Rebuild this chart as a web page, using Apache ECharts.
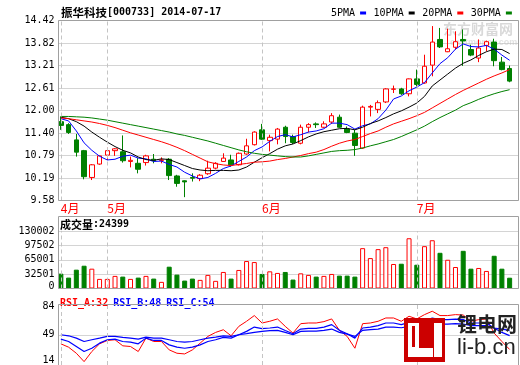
<!DOCTYPE html>
<html><head><meta charset="utf-8">
<script src="https://cdn.jsdelivr.net/npm/echarts@6/dist/echarts.min.js"></script>
<style>html,body{margin:0;padding:0;background:#fff}#c{width:520px;height:365px}</style>
</head><body><div id="c"></div>
<script>
const dates = ['2014-04-23','2014-04-24','2014-04-25','2014-04-28','2014-04-29','2014-04-30',
'2014-05-05','2014-05-06','2014-05-07','2014-05-08','2014-05-09','2014-05-12','2014-05-13','2014-05-14','2014-05-15','2014-05-16','2014-05-19','2014-05-20','2014-05-21','2014-05-22','2014-05-23','2014-05-26','2014-05-27','2014-05-28','2014-05-29','2014-05-30',
'2014-06-03','2014-06-04','2014-06-05','2014-06-06','2014-06-09','2014-06-10','2014-06-11','2014-06-12','2014-06-13','2014-06-16','2014-06-17','2014-06-18','2014-06-19','2014-06-20','2014-06-23','2014-06-24','2014-06-25','2014-06-26','2014-06-27','2014-06-30',
'2014-07-01','2014-07-02','2014-07-03','2014-07-04','2014-07-07','2014-07-08','2014-07-09','2014-07-10','2014-07-11','2014-07-14','2014-07-15','2014-07-16','2014-07-17'];
const openP = [11.70,11.62,11.21,10.92,10.20,10.56,10.80,10.92,10.89,10.63,10.58,10.60,10.69,10.66,10.69,10.24,10.11,10.20,10.17,10.30,10.45,10.63,10.67,10.54,10.83,11.08,11.48,11.19,11.23,11.55,11.30,11.12,11.55,11.64,11.55,11.69,11.82,11.50,11.39,10.99,12.09,12.03,12.23,12.57,12.58,12.45,12.85,12.74,13.22,13.91,13.58,13.70,13.91,13.64,13.41,13.75,13.84,13.30,13.13];
const closeP = [11.60,11.41,10.88,10.22,10.54,10.78,10.92,10.97,10.65,10.66,10.42,10.78,10.65,10.67,10.25,10.04,10.08,10.18,10.26,10.45,10.58,10.72,10.54,10.85,11.05,11.42,11.23,11.28,11.50,11.30,11.14,11.55,11.62,11.62,11.64,11.86,11.55,11.41,11.06,12.09,12.11,12.21,12.58,12.58,12.45,12.85,12.70,13.19,13.84,13.71,13.66,13.85,13.87,13.49,13.68,13.85,13.34,13.10,12.79];
const highP = [11.84,11.66,11.37,10.94,10.56,10.79,11.00,10.99,11.33,10.76,10.72,10.81,10.83,10.74,10.72,10.27,10.12,10.31,10.29,10.65,10.61,10.85,10.81,10.87,11.24,11.44,11.64,11.35,11.53,11.59,11.35,11.62,11.66,11.68,11.71,11.93,11.89,11.57,11.48,12.13,12.15,12.27,12.60,12.67,12.61,12.86,13.10,13.50,14.27,14.22,14.20,14.13,14.18,13.77,13.91,13.88,13.93,13.44,13.21];
const lowP = [11.48,11.37,10.76,10.15,10.13,10.54,10.67,10.78,10.60,10.47,10.31,10.52,10.58,10.58,10.13,9.95,9.67,10.09,10.10,10.27,10.42,10.62,10.49,10.52,10.81,11.06,11.21,10.90,11.09,11.12,11.10,11.09,11.41,11.53,11.53,11.64,11.53,11.39,10.78,10.97,11.84,11.93,12.20,12.47,12.42,12.38,12.65,12.72,12.92,13.68,13.57,13.64,13.20,13.46,13.30,13.59,13.19,13.08,12.76];
const ma5 = [11.78,11.72,11.45,11.13,10.93,10.77,10.67,10.69,10.77,10.80,10.72,10.70,10.63,10.64,10.55,10.48,10.34,10.24,10.16,10.20,10.31,10.44,10.51,10.63,10.75,10.92,11.02,11.17,11.30,11.35,11.29,11.35,11.42,11.45,11.51,11.66,11.66,11.62,11.50,11.59,11.64,11.78,12.01,12.31,12.39,12.53,12.63,12.75,13.01,13.26,13.42,13.65,13.79,13.72,13.71,13.75,13.65,13.49,13.35];
const ma10 = [11.82,11.78,11.70,11.58,11.42,11.28,11.15,11.03,10.93,10.86,10.75,10.68,10.66,10.70,10.68,10.60,10.52,10.44,10.40,10.38,10.39,10.39,10.38,10.40,10.48,10.61,10.73,10.84,10.96,11.05,11.10,11.19,11.29,11.37,11.43,11.47,11.51,11.52,11.48,11.55,11.65,11.72,11.81,11.91,11.99,12.09,12.20,12.38,12.66,12.82,12.98,13.14,13.27,13.36,13.48,13.58,13.65,13.64,13.53];
const ma20 = [11.80,11.78,11.75,11.72,11.69,11.65,11.60,11.54,11.47,11.40,11.34,11.28,11.22,11.16,11.09,11.01,10.92,10.82,10.72,10.62,10.57,10.535,10.52,10.55,10.575,10.61,10.62,10.64,10.68,10.71,10.75,10.79,10.84,10.88,10.95,11.04,11.12,11.18,11.22,11.30,11.38,11.45,11.55,11.64,11.71,11.78,11.86,11.95,12.07,12.19,12.31,12.43,12.54,12.64,12.74,12.84,12.93,13.01,13.10];
const ma30 = [11.84,11.84,11.83,11.82,11.80,11.77,11.74,11.70,11.66,11.62,11.58,11.54,11.50,11.46,11.42,11.37,11.33,11.28,11.23,11.18,11.12,11.06,11.00,10.94,10.89,10.85,10.82,10.80,10.78,10.76,10.75,10.75,10.78,10.82,10.86,10.90,10.92,10.93,10.95,10.99,11.05,11.10,11.16,11.22,11.30,11.39,11.48,11.58,11.70,11.81,11.91,12.01,12.13,12.21,12.30,12.38,12.45,12.51,12.56];
const volume = [33600,24650,42600,51500,44800,21700,21700,28500,26900,21700,24650,28500,22400,15000,49300,31400,17900,22400,19500,30700,17300,37400,22400,41900,62100,59800,32900,38800,35200,37400,20200,34300,30700,26900,28500,32900,29100,29100,26900,91200,68800,89000,93400,55400,56000,113600,53800,95700,109100,80700,65000,48600,85200,44800,46400,39700,74000,44800,24399];
const rsiA = [38.5,34.6,27.6,17.9,29.6,38.5,42.4,43.2,36.2,35.4,29.6,45.1,41.2,41.2,31.5,27.6,26.8,31.5,39.3,47.1,51.7,54.8,47.8,58.7,64.6,71.2,62.6,64.6,67.3,58.7,50.9,61.8,62.6,62.6,64.2,67.3,54.1,47.1,33.4,61.8,62.6,64.6,68.4,68.4,64.6,70.4,67.3,72.3,76.2,71.2,71.2,72.3,71.8,64.6,66.5,67.3,50.9,41.2,32];
const rsiB = [43.9,41.2,35.4,29.6,33.4,39.3,43.2,43.9,41.2,40.4,38.5,45.1,42.4,42.4,37.3,34.6,33.4,34.6,37.3,41.2,43.2,45.9,45.1,49.0,52.9,57.9,56.0,56.8,57.9,54.0,50.2,55.6,56.4,56.4,57.9,60.7,54.1,50.2,45.1,56.8,57.9,59.5,62.6,62.6,60.7,63.4,62.0,65.0,68.4,66.5,66.5,67.0,66.5,62.6,62.6,62.6,56.8,51.7,48];
const rsiC = [49.0,47.8,45.1,41.2,43.2,45.1,47.1,47.1,45.9,45.1,43.9,46.3,45.1,45.1,43.2,41.2,40.4,41.2,43.2,45.1,46.3,47.8,47.1,49.0,50.2,51.7,52.9,53.7,54.1,51.7,49.0,52.9,53.3,53.3,54.1,55.6,51.7,49.8,47.1,54.1,54.9,55.6,57.9,57.9,57.1,58.7,58.3,60.0,62.6,61.4,61.4,61.8,61.4,59.5,59.5,59.5,56.8,55.6,54];
const priceTicks = ['9.58','10.19','10.79','11.40','12.00','12.61','13.21','13.82','14.42'];
const volTicks = ['0','32501','65001','97502','130002'];
const rsiTicks = ['14','49','84'];
const maNames = ['5PMA','10PMA','20PMA','30PMA'];

const MONO = 'DejaVu Sans Mono';
const CJK = 'Noto Sans CJK SC';
const monthStart = dates.map((d, i) => i === 0 || d.slice(5, 7) !== dates[i - 1].slice(5, 7));
const monthDates = dates.filter((d, i) => monthStart[i]);
const last = volume.length - 1;

const dashLines = {
  silent: true, symbol: ['none', 'none'], label: { show: false },
  lineStyle: { color: '#c4c4c4', type: [4, 3], width: 1 },
  emphasis: { disabled: true },
  data: monthDates.map(d => ({ xAxis: d }))
};
const gridColor = '#d4d4d4';
const frameColor = '#a0a0a0';

function tickAxis(gi, n, labels, extraRich) {
  return {
    gridIndex: gi, type: 'value', min: 0, max: n, interval: 1,
    axisLine: { show: false }, axisTick: { show: false },
    splitLine: { show: true, lineStyle: { color: gridColor, width: 1 } },
    axisLabel: {
      margin: 4, color: '#000', fontFamily: MONO, fontSize: 10,
      showMinLabel: true, showMaxLabel: true, hideOverlap: false,
      formatter: v => extraRich && extraRich[v] ? '{' + extraRich[v] + '|' + labels[v] + '}' : labels[v],
      rich: { up: { padding: [0, 0, 5, 0], fontFamily: MONO, fontSize: 10, color: '#000' },
              up2: { padding: [0, 0, 10, 0], fontFamily: MONO, fontSize: 10, color: '#000' },
              dn: { padding: [4, 0, 0, 0], fontFamily: MONO, fontSize: 10, color: '#000' } }
    }
  };
}
const hiddenX = gi => ({ gridIndex: gi, type: 'value', min: 0, max: 1, show: false });
const catX = (gi, showLabel) => ({
  gridIndex: gi, type: 'category', data: dates, boundaryGap: true,
  axisLine: { show: false }, axisTick: { show: false }, splitLine: { show: false },
  axisLabel: showLabel ? {
    show: true, interval: (idx) => monthStart[idx], color: '#ff0000',
    fontFamily: CJK, fontSize: 12, align: 'left', margin: 2,
    formatter: v => parseInt(v.slice(5, 7), 10) + '月'
  } : { show: false }
});

const option = {
  animation: false,
  backgroundColor: '#fff',
  title: [
    { left: 61, top: 7, padding: 0, text: '{c|振华科技}{m|[000733] 2014-07-17}',
      textStyle: { rich: { c: { fontFamily: CJK, fontSize: 11.5, color: '#000' }, m: { fontFamily: MONO, fontSize: 10, color: '#000' } } } },
    { left: 60, top: 219, padding: 0, text: '{c|成交量}{m|:' + volume[last] + '}',
      textStyle: { rich: { c: { fontFamily: CJK, fontSize: 11, color: '#000' }, m: { fontFamily: MONO, fontSize: 10, color: '#000' } } } },
    { left: 60, top: 294, padding: 0,
      text: '{a|RSI_A:' + rsiA[last] + '} {b|RSI_B:' + rsiB[last] + '} {b|RSI_C:' + rsiC[last] + '}',
      textStyle: { rich: { a: { fontFamily: MONO, fontSize: 10, color: '#ff0000' }, b: { fontFamily: MONO, fontSize: 10, color: '#0000ff' } } } }
  ],
  legend: {
    data: maNames, left: 331, top: 8, padding: 0, align: 'right', icon: 'rect',
    itemWidth: 6, itemHeight: 3, itemGap: 7.5, selectedMode: false,
    textStyle: { fontFamily: MONO, fontSize: 10, color: '#000' }
  },
  grid: [
    { left: 58.5, top: 20.5, width: 460, height: 180 },
    { left: 58.5, top: 231, width: 460, height: 57.5 },
    { left: 58.5, top: 304.5, width: 460, height: 61 },
    { left: 57, top: 20.5, width: 456.5, height: 180 },
    { left: 57, top: 231, width: 456.5, height: 57.5 },
    { left: 57, top: 304.5, width: 456.5, height: 61 }
  ],
  xAxis: [hiddenX(0), hiddenX(1), hiddenX(2), catX(3, true), catX(4, false), catX(5, false)],
  yAxis: [
    tickAxis(0, 8, priceTicks),
    tickAxis(1, 4, volTicks, { 0: 'up' }),
    tickAxis(2, 2, rsiTicks, { 0: 'up2', 2: 'dn' }),
    { gridIndex: 3, type: 'value', min: 9.58, max: 14.42, show: false },
    { gridIndex: 4, type: 'value', min: 0, max: 130002, show: false },
    { gridIndex: 5, type: 'value', min: 14, max: 84, show: false }
  ],
  series: [
    { type: 'candlestick', xAxisIndex: 3, yAxisIndex: 3, barWidth: 5,
      data: dates.map((d, i) => [openP[i], closeP[i], lowP[i], highP[i]]),
      itemStyle: { color: '#ffffff', color0: '#008000', borderColor: '#ff0000', borderColor0: '#008000', borderWidth: 1 },
      markLine: dashLines },
    { name: maNames[0], type: 'line', xAxisIndex: 3, yAxisIndex: 3, data: ma5, symbol: 'none', color: '#0000ff', lineStyle: { width: 1 } },
    { name: maNames[1], type: 'line', xAxisIndex: 3, yAxisIndex: 3, data: ma10, symbol: 'none', color: '#000000', lineStyle: { width: 1 } },
    { name: maNames[2], type: 'line', xAxisIndex: 3, yAxisIndex: 3, data: ma20, symbol: 'none', color: '#ff0000', lineStyle: { width: 1 } },
    { name: maNames[3], type: 'line', xAxisIndex: 3, yAxisIndex: 3, data: ma30, symbol: 'none', color: '#008000', lineStyle: { width: 1 } },
    { type: 'bar', xAxisIndex: 4, yAxisIndex: 4, barWidth: 5,
      data: volume.map((v, i) => {
        const up = closeP[i] >= openP[i];
        return { value: v, itemStyle: { color: up ? '#ffffff' : '#008000', borderColor: up ? '#ff0000' : '#008000', borderWidth: 1 } };
      }),
      markLine: dashLines },
    { type: 'line', xAxisIndex: 5, yAxisIndex: 5, data: rsiA, symbol: 'none', color: '#ff0000', lineStyle: { width: 1 }, markLine: dashLines },
    { type: 'line', xAxisIndex: 5, yAxisIndex: 5, data: rsiB, symbol: 'none', color: '#0000ff', lineStyle: { width: 1.2 } },
    { type: 'line', xAxisIndex: 5, yAxisIndex: 5, data: rsiC, symbol: 'none', color: '#0000ff', lineStyle: { width: 1.2 } }
  ],
  graphic: [
    { type: 'text', z: 1, left: 443, top: 22, silent: true,
      style: { text: '东方财富网', font: 'bold 14px "Noto Sans CJK SC"', fill: 'rgba(170,170,170,0.45)' } },
    { type: 'text', z: 1, left: 450, top: 38, silent: true,
      style: { text: 'eastmoney.com', font: 'bold 9px "Liberation Sans"', fill: 'rgba(190,190,190,0.45)' } },
    { type: 'rect', z: 100, silent: true, shape: { x: 58.5, y: 20.5, width: 460, height: 180 }, style: { fill: 'none', stroke: frameColor, lineWidth: 1 } },
    { type: 'rect', z: 100, silent: true, shape: { x: 58.5, y: 216.5, width: 460, height: 72 }, style: { fill: 'none', stroke: frameColor, lineWidth: 1 } },
    { type: 'rect', z: 100, silent: true, shape: { x: 58.5, y: 304.5, width: 460, height: 70 }, style: { fill: 'none', stroke: frameColor, lineWidth: 1 } },
    { type: 'rect', z: 110, silent: true, shape: { x: 404, y: 318, width: 41, height: 44 }, style: { fill: '#cc0000' } },
    { type: 'rect', z: 111, silent: true, shape: { x: 408, y: 323, width: 11, height: 34 }, style: { fill: '#ffffff' } },
    { type: 'rect', z: 111, silent: true, shape: { x: 408, y: 348, width: 25, height: 9 }, style: { fill: '#ffffff' } },
    { type: 'rect', z: 112, silent: true, shape: { x: 412, y: 326, width: 3, height: 21 }, style: { fill: '#cc0000' } },
    { type: 'rect', z: 111, silent: true, shape: { x: 434, y: 323, width: 8, height: 34 }, style: { fill: '#ffffff' } },
    { type: 'text', z: 110, silent: true, left: 457, top: 314,
      style: { text: '锂电网', font: 'bold 20px "Noto Sans CJK SC"', fill: '#222' } },
    { type: 'text', z: 110, silent: true, left: 457, top: 337,
      style: { text: 'li-b.cn', font: '22px "Liberation Sans"', fill: '#222' } }
  ]
};
const chart = echarts.init(document.getElementById('c'), null, { renderer: 'canvas' });
chart.setOption(option);
</script>
</body></html>
